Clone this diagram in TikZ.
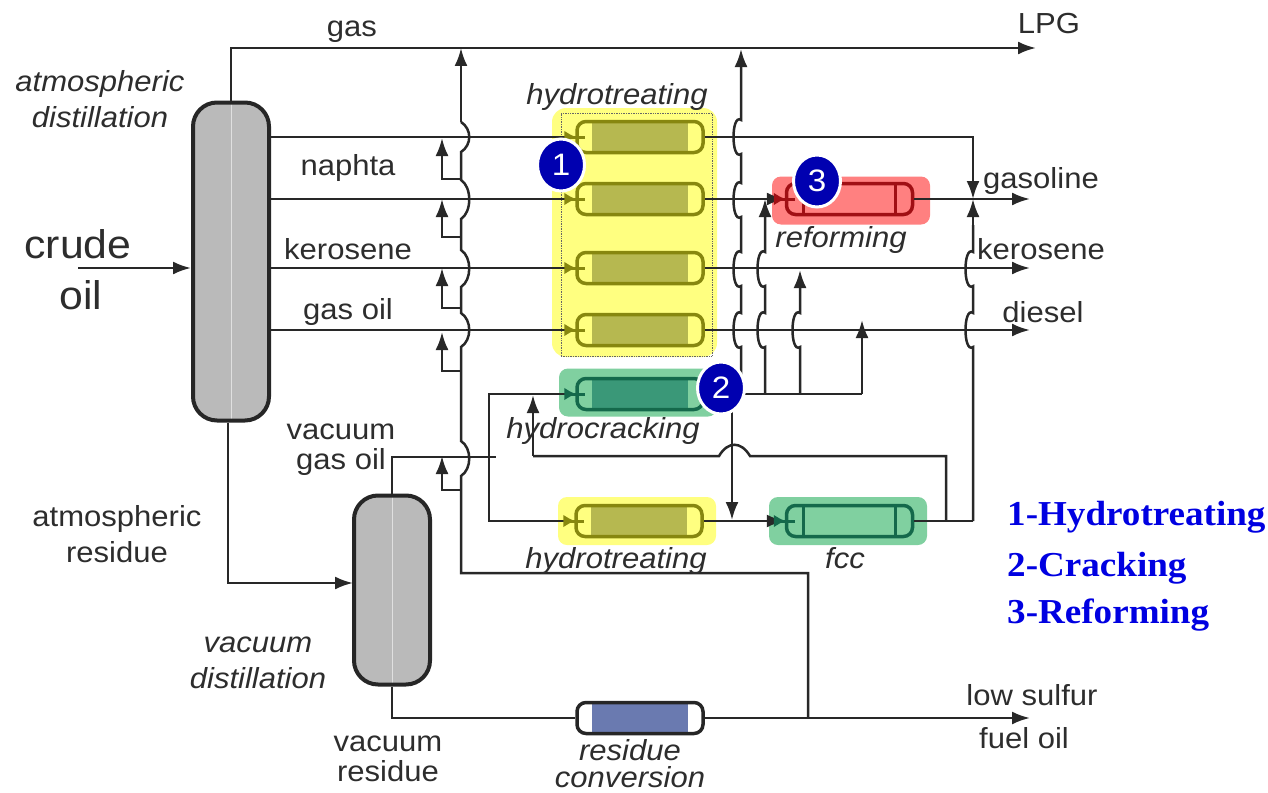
\documentclass[tikz,border=0pt]{standalone}
\usepackage{xcolor}
\usepackage{fontspec}
\usepackage{tikz}
\usetikzlibrary{shapes,arrows,arrows.meta,positioning,fit,backgrounds}
\setmainfont[FakeStretch=1.07]{Liberation Sans}
\newfontfamily\legendfont[FakeStretch=1.06]{Liberation Serif}
\definecolor{inktext}{RGB}{45,45,45}
\definecolor{pipeline}{RGB}{40,40,40}
\definecolor{htback}{RGB}{255,255,128}
\definecolor{htline}{RGB}{135,135,15}
\definecolor{htfill}{RGB}{182,184,80}
\definecolor{hcback}{RGB}{128,208,160}
\definecolor{hcline}{RGB}{20,105,75}
\definecolor{hcfill}{RGB}{58,152,120}
\definecolor{refback}{RGB}{255,128,128}
\definecolor{refline}{RGB}{160,15,20}
\definecolor{rcfill}{RGB}{106,122,176}
\definecolor{badgeblue}{RGB}{0,0,176}
\definecolor{legendblue}{RGB}{0,0,225}

\begin{document}
\begin{tikzpicture}[
    x=1pt, y=-1pt,
    >={Latex[length=18pt,width=13pt]},
    pipe/.style={draw=pipeline, line width=2.5pt},
    arrow/.style={->, pipe},
    inlet/.style={draw=#1, line width=3pt, {Latex[reversed,length=12pt,width=13pt]}-},
    hopl/.style={to path={.. controls +(-10,7) and +(-10,-7) .. (\tikztotarget)}},
    hopr/.style={to path={.. controls +(11,7) and +(11,-7) .. (\tikztotarget)}},
    arch/.style={to path={.. controls +(-9,-15) and +(9,-15) .. (\tikztotarget)}},
    column/.style={rectangle, rounded corners=24pt, draw=black!85, line width=4pt, fill=black!27, minimum width=76pt,
        path picture={\draw[black!12, line width=1pt, sharp corners] (path picture bounding box.north) -- (path picture bounding box.south);}},
    backbox/.style={rectangle, rounded corners=9pt, fill=#1, minimum width=158pt, minimum height=48pt},
    reactor/.style 2 args={rectangle, rounded corners=9pt, draw=#1, line width=3.5pt, minimum width=126pt, minimum height=31pt,
        path picture={\fill[#2, sharp corners] ([xshift=15pt,yshift=-3pt]path picture bounding box.south west) rectangle ([xshift=-15pt,yshift=3pt]path picture bounding box.north east);}},
    sepreactor/.style={rectangle, rounded corners=9pt, draw=#1, line width=3.5pt, minimum width=126pt, minimum height=31pt,
        path picture={\draw[#1, line width=3pt, sharp corners] ([xshift=17pt]path picture bounding box.south west) -- ([xshift=17pt]path picture bounding box.north west)
            ([xshift=-17pt]path picture bounding box.south east) -- ([xshift=-17pt]path picture bounding box.north east);}},
    badge/.style={ellipse, fill=badgeblue, draw=white, line width=3pt, minimum width=47pt, minimum height=52pt, inner sep=0pt, text=white, font=\fontsize{31}{32}\selectfont},
    label/.style={text=inktext, align=center, inner sep=0pt, font=\fontsize{29}{36}\selectfont},
    itlabel/.style={label, font=\fontsize{29}{36}\selectfont\itshape},
    biglabel/.style={label, font=\fontsize{40}{52}\selectfont},
    legend/.style={anchor=west, inner sep=0pt, text=legendblue, font=\fontsize{35}{36}\selectfont\legendfont\bfseries}
]
    \useasboundingbox (0,0) rectangle (1268,792);

    % Coloured blocks
    \node[rectangle, rounded corners=14pt, fill=htback, minimum width=165pt, minimum height=249pt] (htblock) at (634.5,232.5) {};
    \node[rectangle, draw=black!60, densely dotted, line width=0.7pt, minimum width=151pt, minimum height=243pt] (htframe) at (636.5,234.5) {};
    \node[backbox=hcback] (hcblock) at (638,392.5) {};
    \node[backbox=refback] (refblock) at (851,200.5) {};
    \node[backbox=htback] (ht5block) at (637,521) {};
    \node[backbox=hcback] (fccblock) at (848,521) {};

    % Columns
    \node[column, minimum height=318pt] (atm) at (231,261.5) {};
    \node[column, minimum height=189pt] (vac) at (392,590) {};

    % Reactors
    \node[reactor={htline}{htfill}] (ht1) at (640,137) {};
    \node[reactor={htline}{htfill}] (ht2) at (640,199) {};
    \node[reactor={htline}{htfill}] (ht3) at (640,268) {};
    \node[reactor={htline}{htfill}] (ht4) at (640,330) {};
    \node[reactor={hcline}{hcfill}] (hc) at (640,394) {};
    \node[reactor={htline}{htfill}] (ht5) at (639,521) {};
    \node[reactor={black!85}{rcfill}] (rc) at (640,718) {};
    \node[sepreactor=refline] (ref) at (849.5,199) {};
    \node[sepreactor=hcline] (fcc) at (849.5,521) {};

    % Free ends
    \coordinate (crude) at (78,268);
    \coordinate (lpg) at (1036,48);
    \coordinate (gasoline) at (1030,199);
    \coordinate (kerosene) at (1030,268);
    \coordinate (diesel) at (1030,330);
    \coordinate (fueloil) at (1030,718);
    \coordinate (vacin) at (353,583);

    % Column products
    \draw[arrow] (crude) -- (atm.west |- crude);
    \draw[arrow] (atm.north) -- (231,48) -- (lpg);
    \draw[pipe] (atm.east |- ht1.west) -- (ht1.west);
    \draw[pipe] (atm.east |- ht2.west) -- (ht2.west);
    \draw[pipe] (atm.east |- ht3.west) -- (ht3.west);
    \draw[pipe] (atm.east |- ht4.west) -- (ht4.west);
    \draw[arrow] ([xshift=-3pt]atm.south) -- (228,583) -- (vacin);
    \draw[pipe] (vac.north) -- (392,457) -- (496,457);
    \draw[pipe] (vac.south) -- (392,718) -- (rc.west);

    % Treater outlets
    \draw[pipe] (ht1.east) -- (973,137) -- (973,182);
    \draw[->, pipe] (973,160) -- (973,199);
    \draw[arrow] (ht2.east) -- (ref.west);
    \draw[arrow] (ref.east) -- (gasoline);
    \draw[arrow] (ht3.east) -- (kerosene);
    \draw[arrow] (ht4.east) -- (diesel);
    \draw[arrow] (rc.east) -- (fueloil);

    % Gas collector
    \draw[arrow] (461,122) -- (461,48);
    \draw[pipe] (461,122) to[hopr] (461,152) -- (461,180) to[hopr] (461,219) -- (461,250) to[hopr] (461,287)
        -- (461,313) to[hopr] (461,347) -- (461,441) to[hopr] (461,476) -- (461,573) -- (808,573) -- (808,718);
    \draw[arrow] (461,179) -- (442,179) -- (442,138);
    \draw[arrow] (461,237) -- (442,237) -- (442,199);
    \draw[arrow] (461,308) -- (442,308) -- (442,268);
    \draw[arrow] (461,371) -- (442,371) -- (442,332);
    \draw[arrow] (461,490) -- (442,490) -- (442,456);

    % Cracker lines
    \draw[pipe] (ht5.west) -- (489,521) -- (489,394) -- (hc.west);
    \draw[pipe] (hc.east) -- (862,394);
    \draw[arrow] (862,394) -- (862,320);
    \draw[arrow] (800,394) -- (800,347) to[hopl] (800,313) -- (800,270);
    \draw[arrow] (765,394) -- (765,347) to[hopl] (765,313) -- (765,286) to[hopl] (765,252) -- (765,199);
    \draw[arrow] (732,394) -- (732,520);
    \draw[arrow] (741,394) -- (741,347) to[hopl] (741,313) -- (741,286) to[hopl] (741,252) -- (741,217) to[hopl] (741,183) -- (741,154) to[hopl] (741,120) -- (741,49);

    % FCC lines
    \draw[arrow] (ht5.east) -- (fcc.west);
    \draw[pipe] (fcc.east) -- (973,521);
    \draw[pipe] (973,521) -- (973,347) to[hopl] (973,313) -- (973,286) to[hopl] (973,252) -- (973,225);
    \draw[->, pipe] (973,225) -- (973,199);
    \draw[pipe] (946,521) -- (946,456) -- (750,456) to[arch] (719,456) -- (533,456);
    \draw[arrow] (533,456) -- (533,395);

    % Reactor inlets
    \foreach \r/\c in {ht1/htline,ht2/htline,ht3/htline,ht4/htline,ht5/htline,hc/hcline,ref/refline,fcc/hcline}
        \draw[inlet=\c] ([xshift=-11pt]\r.west) -- ([xshift=10pt]\r.west);

    % Badges
    \node[badge] (one) at (561,165) {1};
    \node[badge] (two) at (721,388) {2};
    \node[badge] (three) at (817,181) {3};

    % Labels
    \node[label] (gaslabel) at (352,32) {gas};
    \node[label] (lpglabel) at (1049,24) {LPG};
    \node[itlabel] (atmlabel) at (100,99) {atmospheric\\distillation};
    \node[label] (naphta) at (348,168) {naphta};
    \node[label] (kero) at (348,249) {kerosene};
    \node[label] (gasoil) at (348,312) {gas oil};
    \node[biglabel] (crudelabel) at (78,244) {crude};
    \node[biglabel] (oillabel) at (81,295) {oil};
    \node[itlabel] (httop) at (617,97) {hydrotreating};
    \node[itlabel] (reflabel) at (841,240) {reforming};
    \node[itlabel] (hclabel) at (603,431) {hydrocracking};
    \node[itlabel] (htbot) at (616,561) {hydrotreating};
    \node[itlabel] (fcclabel) at (845,558) {fcc};
    \node[label] (gaslabel2) at (1041,181) {gasoline};
    \node[label] (kero2) at (1041,249) {kerosene};
    \node[label] (diesellabel) at (1043,312) {diesel};
    \node[label] (vgo) at (341,450) {vacuum\\[-6pt]gas oil};
    \node[label] (atmres) at (117,534) {atmospheric\\residue};
    \node[itlabel] (vaclabel) at (258,663) {vacuum\\distillation};
    \node[label] (vacres) at (388,759) {vacuum\\[-6pt]residue};
    \node[itlabel] (rclabel) at (630,764) {residue\\[-9pt]conversion};
    \node[label] (lowsulfur) at (1032,695) {low sulfur};
    \node[label] (fuel) at (1024,738) {fuel oil};

    % Legend
    \node[legend] (leg1) at (1007,517) {1-Hydrotreating};
    \node[legend] (leg2) at (1007,568) {2-Cracking};
    \node[legend] (leg3) at (1007,615) {3-Reforming};
\end{tikzpicture}
\end{document}
